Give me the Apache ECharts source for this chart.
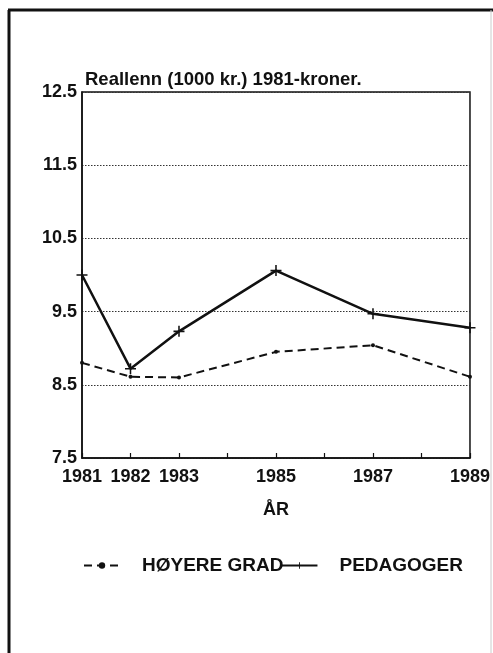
<!DOCTYPE html>
<html>
<head>
<meta charset="utf-8">
<script src="https://cdn.jsdelivr.net/npm/echarts@6/dist/echarts.min.js"></script>
<style>html,body{margin:0;padding:0;background:#fff;}#c{width:493px;height:653px;}</style>
</head>
<body>
<div id="c"></div>
<script>
const years = [1981, 1982, 1983, 1985, 1987, 1989];
const hoyereGrad = [8.80, 8.61, 8.60, 8.95, 9.04, 8.61];
const pedagoger = [10.0, 8.72, 9.23, 10.06, 9.47, 9.28];
const hiddenYearLabels = [1984, 1986, 1988];
const yMin = 7.5, yMax = 12.5, yStep = 1;
const titleText = 'Reallenn (1000 kr.) 1981-kroner.';
const xName = 'ÅR';
const seriesNames = ['HØYERE GRAD', 'PEDAGOGER'];

const font = '"Liberation Sans", Arial, Helvetica, sans-serif';
const chart = echarts.init(document.getElementById('c'));
const pair = (vals) => years.map((y, i) => [y, vals[i]]);
const plusPath = 'path://M-0.7,-5H0.7V-0.7H5V0.7H0.7V5H-0.7V0.7H-5V-0.7H-0.7Z';

chart.setOption({
  animation: false,
  backgroundColor: '#fff',
  title: {
    text: titleText, left: 80, top: 65,
    textStyle: { fontFamily: font, fontWeight: 'bold', fontSize: 18.5, color: '#111' }
  },
  grid: { left: 82, right: 22, top: 92, bottom: 195, show: true, borderColor: '#111', borderWidth: 1.5, backgroundColor: 'transparent' },
  legend: {
    top: 551, left: 78, itemWidth: 36, itemHeight: 8, itemGap: -3,
    data: seriesNames,
    textStyle: { fontFamily: font, fontWeight: 'bold', fontSize: 19, color: '#111', padding: [0, 0, 0, 17] }
  },
  xAxis: {
    type: 'value', min: 1981, max: 1989, interval: 1,
    name: xName, nameLocation: 'middle', nameGap: 43,
    nameTextStyle: { fontFamily: font, fontWeight: 'bold', fontSize: 18, color: '#111' },
    axisLine: { lineStyle: { color: '#111', width: 1.5 } },
    axisTick: { inside: true, length: 5, lineStyle: { color: '#111', width: 1.2 } },
    axisLabel: {
      fontFamily: font, fontWeight: 'bold', fontSize: 18, color: '#111', margin: 10,
      formatter: v => hiddenYearLabels.includes(v) ? '' : String(v)
    },
    splitLine: { show: false }
  },
  yAxis: {
    type: 'value', min: yMin, max: yMax, interval: yStep,
    axisLine: { show: true, lineStyle: { color: '#111', width: 1.5 } },
    axisTick: { show: false },
    axisLabel: {
      fontFamily: font, fontWeight: 'bold', fontSize: 18, color: '#111', margin: 5,
      formatter: v => v.toFixed(1)
    },
    splitLine: { show: true, lineStyle: { color: '#333', type: [1.5, 1.5], width: 1 } }
  },
  series: [
    {
      name: seriesNames[0], type: 'line', data: pair(hoyereGrad),
      lineStyle: { color: '#111', width: 2, type: [8, 5] },
      itemStyle: { color: '#111' },
      symbol: 'circle', symbolSize: 4, showSymbol: true
    },
    {
      name: seriesNames[1], type: 'line', data: pair(pedagoger),
      lineStyle: { color: '#111', width: 2.5, type: 'solid' },
      itemStyle: { color: '#111' },
      symbol: plusPath, symbolSize: 11, showSymbol: true
    }
  ],
  graphic: [
    { type: 'line', shape: { x1: 9, y1: 10, x2: 9, y2: 653 }, style: { stroke: '#111', lineWidth: 3 } },
    { type: 'line', shape: { x1: 8, y1: 10, x2: 493, y2: 10 }, style: { stroke: '#111', lineWidth: 3 } },
    { type: 'line', shape: { x1: 491, y1: 10, x2: 491, y2: 653 }, style: { stroke: '#ccc', lineWidth: 1 } }
  ]
});
</script>
</body>
</html>
